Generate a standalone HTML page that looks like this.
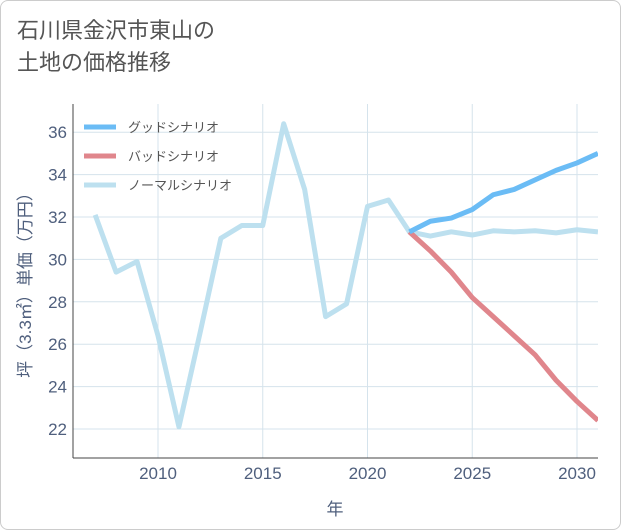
<!DOCTYPE html>
<html><head><meta charset="utf-8"><style>
body{margin:0;background:#fff;}
#wrap{position:relative;width:619px;height:528px;border:1px solid #ccc;border-radius:8px;overflow:hidden;background:#fff;font-family:"Liberation Sans","Noto Sans CJK JP",sans-serif;}
#title{position:absolute;left:16px;top:14px;font-size:22px;line-height:32px;color:#555;}
</style></head><body>
<div id="wrap">
<div id="title">石川県金沢市東山の<br>土地の価格推移</div>
<svg id="chart" width="621" height="530" style="position:absolute;left:0;top:0"></svg>
</div>
<script>
const years=[2007,2008,2009,2010,2011,2012,2013,2014,2015,2016,2017,2018,2019,2020,2021,2022,2023,2024,2025,2026,2027,2028,2029,2030,2031];
const normal=[32.1,29.4,29.9,26.4,22.1,26.5,31.0,31.6,31.6,36.4,33.3,27.3,27.9,32.5,32.8,31.3,31.1,31.3,31.15,31.35,31.3,31.35,31.25,31.4,31.3];
const futureYears=[2022,2023,2024,2025,2026,2027,2028,2029,2030,2031];
const good=[31.3,31.8,31.95,32.35,33.05,33.3,33.75,34.2,34.55,35.0];
const bad=[31.3,30.4,29.4,28.2,27.3,26.4,25.5,24.3,23.3,22.4];
const xTicks=[2010,2015,2020,2025,2030];
const yTicks=[22,24,26,28,30,32,34,36];
const seriesNames=["グッドシナリオ","バッドシナリオ","ノーマルシナリオ"];
const colors=["#6bbcf5","#e0868c","#bde0ef"];
const L=72,R=597,T=103,B=457;
const x=v=>157+(v-2010)*20.95;
const y=v=>428-(v-22)*21.2;
const svg=document.getElementById('chart');
const NS="http://www.w3.org/2000/svg";
function mk(t,a,p){const e=document.createElementNS(NS,t);for(const k in a)e.setAttribute(k,a[k]);(p||svg).appendChild(e);return e;}
const grid=mk('g',{});


yTicks.forEach(v=>{mk('line',{x1:L,x2:R,y1:y(v),y2:y(v),stroke:'#d5e3ec','stroke-width':1},grid);
const t=mk('text',{x:L-6,y:y(v)+6,'text-anchor':'end','font-size':17,fill:'#4f5f7d'});t.textContent=v;

});
xTicks.forEach(v=>{mk('line',{x1:x(v),x2:x(v),y1:T,y2:B,stroke:'#d5e3ec','stroke-width':1},grid);
const t=mk('text',{x:x(v),y:B+21,'text-anchor':'middle','font-size':17,fill:'#4f5f7d'});t.textContent=v;

});
mk('line',{x1:L,x2:L,y1:T,y2:B,stroke:'#444','stroke-width':1});
mk('line',{x1:L,x2:R,y1:B,y2:B,stroke:'#444','stroke-width':1});
const xt=mk('text',{x:334,y:514,'text-anchor':'middle','font-size':17,fill:'#4f5f7d'});xt.textContent='年';


const yt=mk('text',{x:30,y:280,'text-anchor':'middle','font-size':17,fill:'#4f5f7d',transform:'rotate(-90 30 280)'});yt.textContent='坪（3.3㎡）単価（万円）';


const clip=mk('clipPath',{id:'c'});mk('rect',{x:L,y:T,width:R-L,height:B-T},clip);
function line(xs,vs,c,name){const p=mk('polyline',{points:xs.map((v,i)=>x(v)+','+y(vs[i])).join(' '),fill:'none',stroke:c,'stroke-width':5,'stroke-linejoin':'round','clip-path':'url(#c)'});

}
line(years,normal,colors[2],'normal-scenario-line');
line(futureYears,bad,colors[1],'bad-scenario-line');
line(futureYears,good,colors[0],'good-scenario-line');
seriesNames.forEach((n,i)=>{const g=mk('g',{});


const yy=126+i*29;mk('line',{x1:83,x2:115,y1:yy,y2:yy,stroke:colors[i],'stroke-width':5},g);
const t=mk('text',{x:127,y:yy+5,'font-size':13,fill:'#555'},g);t.textContent=n;});
</script>
</body></html>
